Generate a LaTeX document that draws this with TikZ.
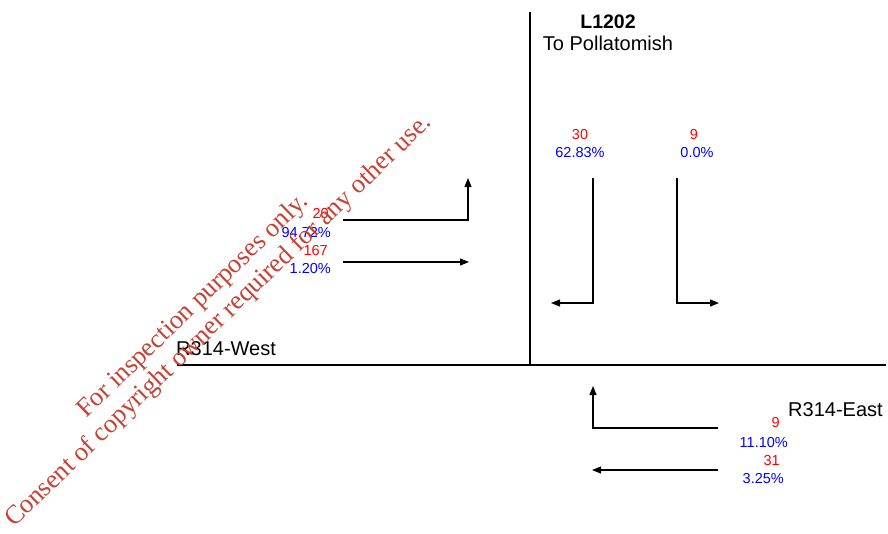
\documentclass[tikz,border=0pt]{standalone}
\usepackage{fontspec}
\setmainfont{Liberation Sans}
\newfontfamily\wmfont{Liberation Serif}
\usetikzlibrary{arrows.meta}
\definecolor{wmred}{RGB}{200,65,50}
\tikzset{
  road/.style={line width=1.6pt, black},
  flow/.style={line width=1.1pt, black, -{Triangle[length=9pt,width=7pt]}},
  cnt/.style={text=red, font=\fontsize{14.5}{17}\selectfont, inner sep=0pt},
  pct/.style={text=blue, font=\fontsize{14.5}{17}\selectfont, inner sep=0pt},
  lbl/.style={font=\fontsize{20}{24}\selectfont, inner sep=0pt},
  wm/.style={text=wmred, font=\wmfont\fontsize{26.4}{30}\selectfont, inner sep=0pt, rotate=44, anchor=base west}
}
\begin{document}
\begin{tikzpicture}[x=1pt,y=-1pt]
\useasboundingbox (0,0) rectangle (888,533);
% roads
\coordinate (vtop) at (530,12);
\coordinate (vbot) at (530,365);
\coordinate (hw) at (177,365);
\coordinate (he) at (886,365);
\draw[road] (vtop) -- (vbot);
\draw[road] (hw) -- (he);
% road labels
\node[lbl, anchor=base, font=\bfseries\fontsize{19.5}{23}\selectfont] (l1202) at (608,28) {L1202};
\node[lbl, anchor=base] (poll) at (608,50) {To Pollatomish};
\node[lbl, anchor=base west] (west) at (176,355) {R314-West};
\node[lbl, anchor=base west] (east) at (788,416) {R314-East};
% west approach
\coordinate (w1s) at (343,220);
\coordinate (w1c) at (468,220);
\coordinate (w1e) at (468,178);
\coordinate (w2s) at (343,262);
\coordinate (w2e) at (469,262);
\draw[flow] (w1s) -- (w1c) -- (w1e);
\draw[flow] (w2s) -- (w2e);
\node[cnt, anchor=base east] (c20) at (329,218) {20};
\node[pct, anchor=base east] (p9472) at (331,237) {94.72\%};
\node[cnt, anchor=base east] (c167) at (328,255) {167};
\node[pct, anchor=base east] (p120) at (331,273) {1.20\%};
% north approach
\coordinate (n1s) at (593,178);
\coordinate (n1c) at (593,303);
\coordinate (n1e) at (551,303);
\coordinate (n2s) at (677,178);
\coordinate (n2c) at (677,303);
\coordinate (n2e) at (719,303);
\draw[flow] (n1s) -- (n1c) -- (n1e);
\draw[flow] (n2s) -- (n2c) -- (n2e);
\node[cnt, anchor=base] (c30) at (580,139) {30};
\node[pct, anchor=base] (p6283) at (580,157) {62.83\%};
\node[cnt, anchor=base] (c9n) at (694,139) {9};
\node[pct, anchor=base] (p00) at (697,157) {0.0\%};
% east approach
\coordinate (e1s) at (718,428);
\coordinate (e1c) at (593,428);
\coordinate (e1e) at (593,386);
\coordinate (e2s) at (718,470);
\coordinate (e2e) at (592,470);
\draw[flow] (e1s) -- (e1c) -- (e1e);
\draw[flow] (e2s) -- (e2e);
\node[cnt, anchor=base east] (c9e) at (780,427) {9};
\node[pct, anchor=base east] (p1110) at (788,447) {11.10\%};
\node[cnt, anchor=base east] (c31) at (780,465) {31};
\node[pct, anchor=base east] (p325) at (784,483) {3.25\%};
% watermark
\node[wm] (wm1) at (86,419) {For inspection purposes only.};
\node[wm] (wm2) at (14,528) {Consent of copyright owner required for any other use.};
\end{tikzpicture}
\end{document}
